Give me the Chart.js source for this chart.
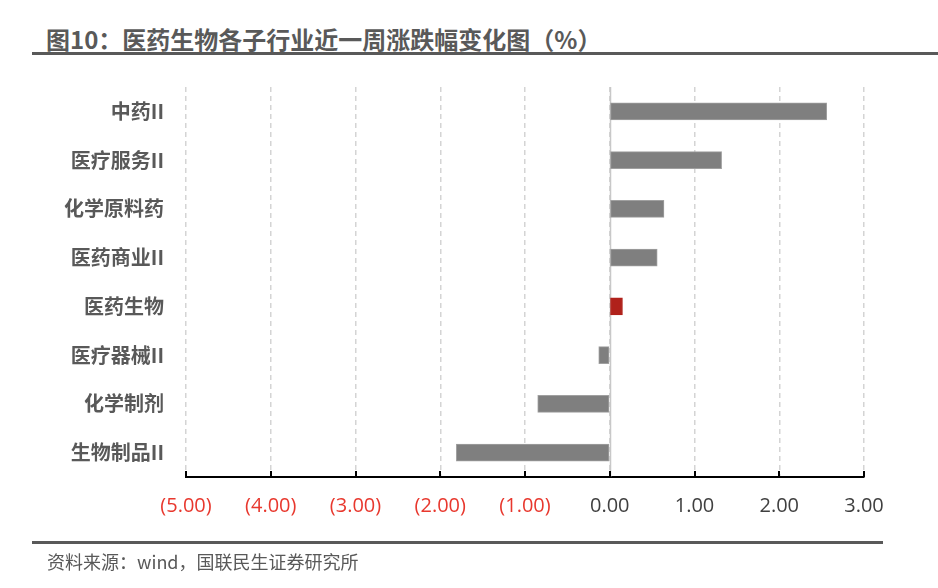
<!DOCTYPE html>
<html lang="zh">
<head>
    <meta charset="UTF-8">
    <title>医药生物各子行业近一周涨跌幅</title>
    <script src="https://cdn.jsdelivr.net/npm/chart.js"></script>
    <style>
        html, body { margin: 0; padding: 0; background: #fff; }
        body { width: 938px; height: 588px; position: relative; overflow: hidden; font-family: "Noto Sans CJK SC", sans-serif; }
        .titulo { position: absolute; left: 46px; top: 23px; font-size: 24px; font-weight: bold; color: #595959; line-height: 32px; white-space: nowrap; }
        .linha_topo { position: absolute; left: 32px; top: 52px; width: 906px; height: 3px; background: #595959; }
        .linha_base { position: absolute; left: 32px; top: 541px; width: 851px; height: 3px; background: #595959; }
        .fonte { position: absolute; left: 47px; top: 549px; font-size: 18px; color: #595959; line-height: 24px; white-space: nowrap; }
        .grafico { position: absolute; left: 0; top: 0; width: 938px; height: 588px; }
    </style>
</head>
<body>
<div class="titulo">图10：医药生物各子行业近一周涨跌幅变化图（%）</div>
<div class="linha_topo"></div>
<div class="grafico"><canvas id="barrasChart" width="938" height="588"></canvas></div>
<div class="linha_base"></div>
<div class="fonte">资料来源：wind，国联民生证券研究所</div>
<script>
    // dados
    const categorias = ['中药II', '医疗服务II', '化学原料药', '医药商业II', '医药生物', '医疗器械II', '化学制剂', '生物制品II'];
    const variacoes = [2.56, 1.32, 0.64, 0.56, 0.15, -0.13, -0.85, -1.81];
    const destaque = '医药生物';
    const eixoMin = -5;
    const eixoMax = 3;

    const cores = categorias.map(c => c === destaque ? '#b0211b' : '#7f7f7f');
    const bordas = categorias.map(c => c === destaque ? '#b0211b' : '#a0a0a0');

    // linha do zero e marcas do eixo voltadas para dentro
    const extras = {
        id: 'extras',
        beforeDatasetsDraw(chart) {
            const {ctx, chartArea, scales} = chart;
            const x0 = Math.round(scales.x.getPixelForValue(0)) + 0.5;
            ctx.save();
            ctx.strokeStyle = '#c8c8c8';
            ctx.lineWidth = 1.5;
            ctx.beginPath();
            ctx.moveTo(x0, chartArea.top);
            ctx.lineTo(x0, chartArea.bottom);
            ctx.stroke();
            ctx.restore();
        },
        afterDraw(chart) {
            const {ctx, chartArea, scales} = chart;
            ctx.save();
            ctx.strokeStyle = '#000';
            ctx.lineWidth = 2;
            scales.x.ticks.forEach(t => {
                const x = Math.round(scales.x.getPixelForValue(t.value));
                ctx.beginPath();
                ctx.moveTo(x, chartArea.bottom);
                ctx.lineTo(x, chartArea.bottom - 6);
                ctx.stroke();
            });
            ctx.restore();
        }
    };

    const ctx = document.getElementById('barrasChart').getContext('2d');
    new Chart(ctx, {
        type: 'bar',
        data: {
            labels: categorias,
            datasets: [{
                label: '涨跌幅',
                data: variacoes,
                backgroundColor: cores,
                borderColor: bordas,
                borderWidth: 1,
                borderSkipped: false,
                barThickness: 17
            }]
        },
        options: {
            indexAxis: 'y', // barras horizontais
            responsive: false,
            animation: false,
            layout: { padding: { top: 87, right: 74, bottom: 0, left: 0 } },
            plugins: {
                legend: { display: false },
                tooltip: { enabled: false }
            },
            scales: {
                x: {
                    min: eixoMin,
                    max: eixoMax,
                    afterFit: s => { s.height = 111; },
                    ticks: {
                        stepSize: 1,
                        padding: 17,
                        maxRotation: 0,
                        font: { family: 'Open Sans', size: 20 },
                        color: c => c.tick && c.tick.value < 0 ? '#e8382e' : '#404040',
                        callback: v => v < 0 ? '(' + Math.abs(v).toFixed(2) + ')' : v.toFixed(2)
                    },
                    grid: {
                        color: '#d4d4d4',
                        lineWidth: 1.5,
                        drawTicks: false
                    },
                    border: { display: true, color: '#000', width: 2, dash: [5, 4] }
                },
                y: {
                    afterFit: s => { s.width = 186; },
                    ticks: {
                        padding: 22,
                        font: { family: 'Noto Sans CJK SC', size: 20, weight: 'bold' },
                        color: '#595959'
                    },
                    grid: { display: false, drawTicks: false },
                    border: { display: false }
                }
            }
        },
        plugins: [extras]
    });
</script>
</body>
</html>
